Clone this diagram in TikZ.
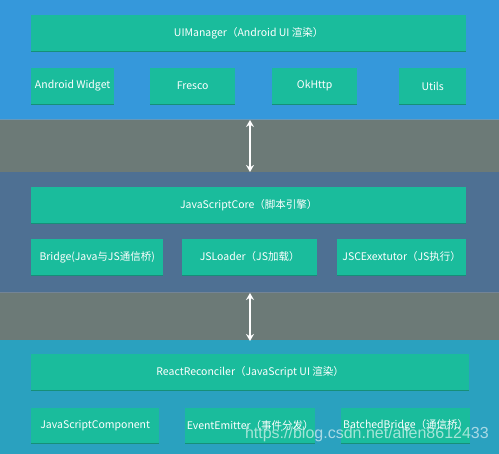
\documentclass[tikz,border=0pt]{standalone}
\usepackage{fontspec}
\setmainfont{Noto Sans CJK SC}
\newfontfamily\wmfont{Liberation Sans}
\usetikzlibrary{arrows.meta}
\definecolor{topbg}{HTML}{3598DB}
\definecolor{gapbg}{HTML}{6C7A77}
\definecolor{midbg}{HTML}{4E7093}
\definecolor{botbg}{HTML}{2AA1BF}
\definecolor{boxc}{HTML}{1ABC9C}
\definecolor{boxsh}{HTML}{168F78}
\tikzset{
  x=1pt,y=-1pt,
  box/.style={fill=boxc, draw=none, inner sep=0pt, text=white,
    font=\fontsize{10.5}{12}\selectfont},
  link/.style={draw=white, line width=2pt, {Stealth[length=7pt,width=8pt]}-{Stealth[length=7pt,width=8pt]}}
}
\newcommand{\bx}[6]{% name, x1, y1, x2, y2, text
  \fill[boxsh] (#2,#5-0.5) rectangle (#4,#5+1.5);
  \node[box, minimum width=#4-#2, minimum height=#5-#3-0.5, anchor=north west] (#1) at (#2,#3) {#6};
}
\begin{document}
\begin{tikzpicture}
\useasboundingbox (0,0) rectangle (499,454);
\fill[topbg] (0,0) rectangle (499,120);
\fill[gapbg] (0,120) rectangle (499,172);
\fill[midbg] (0,172) rectangle (499,293);
\fill[gapbg] (0,293) rectangle (499,340);
\fill[botbg] (0,340) rectangle (499,454);
\fill[black!40, opacity=0.5] (0,119) rectangle (499,120.5);
\fill[black!40, opacity=0.5] (0,292) rectangle (499,293.5);
% top layer
\bx{ui}{31}{15}{466}{51}{UIManager（Android UI 渲染）}
\bx{aw}{31}{68}{114}{104}{Android Widget}
\bx{fr}{150}{68}{235}{104}{Fresco}
\bx{ok}{272}{68}{357}{104}{OkHttp}
\bx{ut}{399}{68}{466}{104}{Utils}
% middle layer
\bx{jsc}{31}{187}{466}{223}{JavaScriptCore（脚本引擎）}
\bx{br}{31}{239}{163}{275}{Bridge(Java与JS通信桥)}
\bx{jl}{182}{239}{317}{275}{JSLoader（JS加载）}
\bx{je}{337}{239}{466}{275}{JSCExextutor（JS执行）}
% bottom layer
\bx{rr}{31}{354}{469}{390}{ReactReconciler（JavaScript UI 渲染）}
\bx{jcomp}{31}{408}{159}{443}{JavaScriptComponent}
\bx{ee}{185}{408}{315}{443}{EventEmitter（事件分发）}
\bx{bb}{341}{408}{470}{443}{BatchedBridge（通信桥）}
% arrows
\coordinate (a1t) at (250,120);
\coordinate (a1b) at (250,172);
\coordinate (a2t) at (250,293);
\coordinate (a2b) at (250,341);
\draw[link] (a1t) -- (a1b);
\draw[link] (a2t) -- (a2b);
% watermark
\node[anchor=east, inner sep=0pt, text=white, opacity=0.6, font=\wmfont\fontsize{16}{18}\selectfont] (wm) at (489,434) {https://blog.csdn.net/allen8612433};
\end{tikzpicture}
\end{document}
